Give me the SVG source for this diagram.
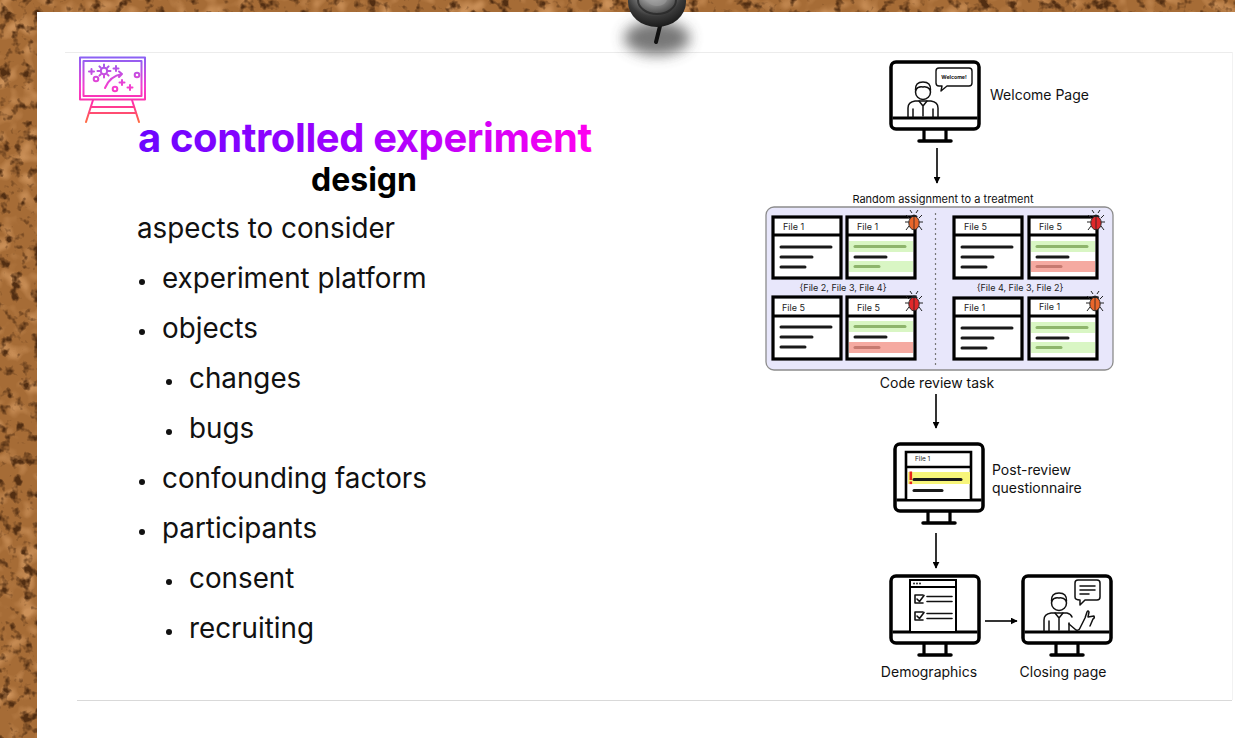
<svg xmlns="http://www.w3.org/2000/svg" width="1235" height="738" viewBox="0 0 1235 738">
  <style>
    .sans { font-family: Inter, "Liberation Sans", Arial, sans-serif; }
    .bullet-text { font-family: Inter, "Liberation Sans", Arial, sans-serif; font-size: 27.8px; fill: #111; }
    .label { font-family: Inter, "Liberation Sans", Arial, sans-serif; font-size: 14px; fill: #111; }
    .tiny { font-family: Inter, "Liberation Sans", Arial, sans-serif; font-size: 9px; fill: #222; }
    .frame { fill: #fff; stroke: #000; stroke-width: 3.5; }
    .ink { fill: none; stroke: #111; stroke-linecap: round; stroke-linejoin: round; }
    .card { fill: #fff; stroke: #000; stroke-width: 3.2; }
    .code { stroke: #1a1a1a; stroke-width: 3; stroke-linecap: round; }
    .add-band { fill: #d9f6c4; }
    .add-line { stroke: #8eb56c; stroke-width: 3; stroke-linecap: round; }
    .del-band { fill: #f5aaa1; }
    .del-line { stroke: #c67a70; stroke-width: 3; stroke-linecap: round; }
    .conn { stroke: #000; stroke-width: 1.6; fill: none; }
  </style>
  <defs>
    <filter id="corkTex" x="0" y="0" width="1" height="1" color-interpolation-filters="sRGB">
      <feFlood flood-color="#a66c36" result="base"/>
      <feTurbulence type="fractalNoise" baseFrequency="0.055" numOctaves="2" seed="11" result="n2"/>
      <feColorMatrix in="n2" type="matrix" values="0 0 0 0 0.80  0 0 0 0 0.57  0 0 0 0 0.35  3.2 0 0 0 -1.6" result="light"/>
      <feTurbulence type="fractalNoise" baseFrequency="0.09" numOctaves="3" seed="3" result="n1"/>
      <feColorMatrix in="n1" type="matrix" values="0 0 0 0 0.32  0 0 0 0 0.18  0 0 0 0 0.07  4.5 0 0 0 -2.4" result="dark"/>
      <feMerge><feMergeNode in="base"/><feMergeNode in="light"/><feMergeNode in="dark"/></feMerge>
    </filter>
    <filter id="soft" x="-50%" y="-50%" width="200%" height="200%">
      <feGaussianBlur stdDeviation="7"/>
    </filter>
    <radialGradient id="pinHead" cx="0.45" cy="0.3" r="0.7">
      <stop offset="0" stop-color="#f2f2f2"/>
      <stop offset="0.35" stop-color="#8c8c8c"/>
      <stop offset="0.7" stop-color="#3a3a3a"/>
      <stop offset="1" stop-color="#1b1b1b"/>
    </radialGradient>
    <linearGradient id="titleGrad" gradientUnits="userSpaceOnUse" x1="138" y1="0" x2="590" y2="0">
      <stop offset="0" stop-color="#6b05ff"/>
      <stop offset="0.5" stop-color="#a300ff"/>
      <stop offset="1" stop-color="#ff00f0"/>
    </linearGradient>
    <linearGradient id="iconGrad" gradientUnits="userSpaceOnUse" x1="0" y1="57" x2="0" y2="123">
      <stop offset="0" stop-color="#8a62f5"/>
      <stop offset="0.45" stop-color="#f43fd0"/>
      <stop offset="0.7" stop-color="#ff2fa8"/>
      <stop offset="1" stop-color="#ff6b3a"/>
    </linearGradient>
    <marker id="arrow" viewBox="0 0 10 10" refX="9" refY="5" markerWidth="7" markerHeight="7" markerUnits="userSpaceOnUse" orient="auto">
      <path d="M0,0 L10,5 L0,10 z" fill="#000"/>
    </marker>
    <!-- desktop monitor outline: screen, bezel and stand -->
    <g id="monitor">
      <rect class="frame" x="0" y="0" width="88" height="67" rx="5"/>
      <line x1="1.5" y1="56" x2="86.5" y2="56" stroke="#000" stroke-width="3"/>
      <path d="M33,68 V78 M55,68 V78" stroke="#000" stroke-width="3.2" fill="none"/>
      <line x1="28" y1="79" x2="60" y2="79" stroke="#000" stroke-width="3.5" stroke-linecap="round"/>
    </g>
    <!-- beetle used to mark the seeded bug -->
    <g id="bug">
      <path d="M-5,-3 L-8,-6 M5,-3 L8,-6 M-5,1 L-9,1 M5,1 L9,1 M-5,5 L-8,9 M5,5 L8,9 M-2,-8 L-4,-11 M2,-8 L4,-11" stroke="#222" stroke-width="1" fill="none"/>
      <ellipse cx="0" cy="2" rx="5.2" ry="6.8" stroke="#222" stroke-width="0.9"/>
      <path d="M-4,-4 Q0,-9 4,-4 Z" fill="#222"/>
      <line x1="0" y1="-4" x2="0" y2="8.5" stroke="#222" stroke-width="0.8"/>
    </g>
  </defs>

  <!-- cork board and page -->
  <rect x="0" y="0" width="1235" height="738" filter="url(#corkTex)"/>
  <rect x="37" y="12" width="1198" height="726" fill="#fff"/>
  <line x1="65" y1="52.5" x2="1232" y2="52.5" stroke="#ececec" stroke-width="1"/>
  <line x1="77" y1="700.5" x2="1232" y2="700.5" stroke="#d9d9d9" stroke-width="1.2"/>
  <line x1="1232.5" y1="52" x2="1232.5" y2="700" stroke="#f2f2f2" stroke-width="1"/>

  <!-- push pin -->
  <g id="pin">
    <ellipse cx="657" cy="38" rx="33" ry="17" fill="#4a4a4a" opacity="0.75" filter="url(#soft)"/>
    <path d="M660,26 L656,42" stroke="#111" stroke-width="4" stroke-linecap="round"/>
    <ellipse cx="657" cy="2" rx="29" ry="25" fill="url(#pinHead)"/>
    <ellipse cx="657" cy="0" rx="19" ry="14" fill="none" stroke="#222" stroke-width="2" opacity="0.7"/>
    <ellipse cx="657" cy="-1" rx="10" ry="7" fill="#9a9a9a" opacity="0.6"/>
  </g>

  <!-- easel icon -->
  <g id="icon" fill="none" stroke="url(#iconGrad)" stroke-width="2" stroke-linecap="round" stroke-linejoin="round">
    <rect x="80" y="57.5" width="65" height="42"/>
    <rect x="83.5" y="61" width="58" height="35"/>
    <path d="M93,100 L86,122 M132,100 L139,122 M91,107 H134 M89,113 H136"/>
    <circle cx="104" cy="71" r="3.2"/>
    <path d="M104,64.5 V66.5 M104,75.5 V77.5 M97.5,71 H99.5 M108.5,71 H110.5 M99.4,66.4 L100.8,67.8 M107.2,74.2 L108.6,75.6 M99.4,75.6 L100.8,74.2 M107.2,67.8 L108.6,66.4"/>
    <path d="M116,66 V71 M113.5,68.5 H118.5"/>
    <path d="M89,71.5 H94 M91.5,69 V74"/>
    <circle cx="96" cy="79" r="2.3"/>
    <circle cx="137" cy="75" r="2.3"/>
    <circle cx="115" cy="89" r="2.3"/>
    <path d="M105,88 Q110,76 122,74 M119,71.5 L122,74 L119,77"/>
    <path d="M122,80 V85 M119.5,82.5 H124.5"/>
    <path d="M130,85 V90 M127.5,87.5 H132.5"/>
  </g>

  <!-- title -->
  <text id="title" x="138" y="152" class="sans" font-size="40" font-weight="700" letter-spacing="-0.4" fill="url(#titleGrad)">a controlled experiment</text>
  <text id="subtitle" x="364" y="191" class="sans" font-size="32" font-weight="700" fill="#000" text-anchor="middle">design</text>

  <!-- bullet list -->
  <g id="bullets">
    <text x="137" y="238" class="bullet-text">aspects to consider</text>
    <circle cx="142" cy="282" r="3" fill="#111"/>
    <text x="162" y="288" class="bullet-text">experiment platform</text>
    <circle cx="142" cy="332" r="3" fill="#111"/>
    <text x="162" y="338" class="bullet-text">objects</text>
    <circle cx="169" cy="382" r="3" fill="#111"/>
    <text x="189" y="388" class="bullet-text">changes</text>
    <circle cx="169" cy="432" r="3" fill="#111"/>
    <text x="189" y="438" class="bullet-text">bugs</text>
    <circle cx="142" cy="482" r="3" fill="#111"/>
    <text x="162" y="488" class="bullet-text">confounding factors</text>
    <circle cx="142" cy="532" r="3" fill="#111"/>
    <text x="162" y="538" class="bullet-text">participants</text>
    <circle cx="169" cy="582" r="3" fill="#111"/>
    <text x="189" y="588" class="bullet-text">consent</text>
    <circle cx="169" cy="632" r="3" fill="#111"/>
    <text x="189" y="638" class="bullet-text">recruiting</text>
  </g>

  <!-- connectors -->
  <g id="connectors">
    <line class="conn" x1="937" y1="148" x2="937" y2="183" marker-end="url(#arrow)"/>
    <line class="conn" x1="936" y1="394" x2="936" y2="428" marker-end="url(#arrow)"/>
    <line class="conn" x1="936" y1="533" x2="936" y2="568" marker-end="url(#arrow)"/>
    <line class="conn" x1="985" y1="621" x2="1017" y2="621" marker-end="url(#arrow)"/>
  </g>

  <!-- welcome page -->
  <g id="welcome">
    <use href="#monitor" x="891" y="62"/>
    <g class="ink" stroke-width="1.5">
      <circle cx="923" cy="92" r="7.5" fill="#fff"/>
      <path d="M915.5,90 Q915,82 923,82 Q931,82 930.5,90 Q927,86 923,87 Q918,86 915.5,90 Z" fill="#fff"/>
      <path d="M908,117 V108 Q908,102 915,101 L931,101 Q938,102 938,108 V117"/>
      <path d="M919,101 L923,106 L927,101 M923,106 V116 M913,109 V117 M933,109 V117"/>
    </g>
    <g class="ink" stroke-width="1.4">
      <path d="M939,68 H969 Q972,68 972,71 V83 Q972,86 969,86 H947 L941,91 L942,86 H939 Q936,86 936,83 V71 Q936,68 939,68 Z" fill="#fff"/>
    </g>
    <text x="954" y="79" class="sans" font-size="5.2" font-weight="700" text-anchor="middle" fill="#111">Welcome!</text>
    <text x="990" y="100" class="label">Welcome Page</text>
  </g>

  <!-- code review task -->
  <g id="review-task">
    <text x="943" y="203" class="sans" font-size="11" fill="#111" text-anchor="middle">Random assignment to a treatment</text>
    <rect x="766" y="207" width="347" height="163" rx="8" fill="#e8e7fb" stroke="#8c8c8c" stroke-width="1.3"/>
    <line x1="935.5" y1="213" x2="935.5" y2="366" stroke="#777" stroke-width="1.2" stroke-dasharray="2 3"/>

    <!-- left treatment, upper pair -->
    <rect class="card" x="773" y="217" width="68" height="61"/>
    <line x1="773" y1="235" x2="841" y2="235" stroke="#000" stroke-width="3"/>
    <text x="783" y="230" class="tiny">File 1</text>
    <path class="code" d="M781,247 H831 M781,257 H812 M781,267 H805"/>

    <rect class="card" x="847" y="217" width="68" height="61"/>
    <line x1="847" y1="235" x2="915" y2="235" stroke="#000" stroke-width="3"/>
    <text x="857" y="230" class="tiny">File 1</text>
    <rect class="add-band" x="849" y="241" width="64" height="11"/>
    <line class="add-line" x1="855" y1="246.5" x2="905" y2="246.5"/>
    <line class="code" x1="855" y1="257" x2="886" y2="257"/>
    <rect class="add-band" x="849" y="261" width="64" height="11"/>
    <line class="add-line" x1="855" y1="266.5" x2="879" y2="266.5"/>
    <use href="#bug" x="914" y="221" fill="#e8662b"/>

    <text x="843" y="291" class="tiny" font-size="8.5" text-anchor="middle">{File 2, File 3, File 4}</text>

    <!-- left treatment, lower pair -->
    <rect class="card" x="773" y="297" width="68" height="62"/>
    <line x1="773" y1="316" x2="841" y2="316" stroke="#000" stroke-width="3"/>
    <text x="782" y="311" class="tiny">File 5</text>
    <path class="code" d="M781,327 H831 M781,337 H812 M781,347 H805"/>

    <rect class="card" x="847" y="297" width="68" height="62"/>
    <line x1="847" y1="316" x2="915" y2="316" stroke="#000" stroke-width="3"/>
    <text x="857" y="311" class="tiny">File 5</text>
    <rect class="add-band" x="849" y="321" width="64" height="11"/>
    <line class="add-line" x1="855" y1="326.5" x2="905" y2="326.5"/>
    <line class="code" x1="855" y1="337" x2="886" y2="337"/>
    <rect class="del-band" x="849" y="342" width="64" height="11"/>
    <line class="del-line" x1="855" y1="347.5" x2="879" y2="347.5"/>
    <use href="#bug" x="914" y="302" fill="#e0282a"/>

    <!-- right treatment, upper pair -->
    <rect class="card" x="954" y="217" width="68" height="61"/>
    <line x1="954" y1="235" x2="1022" y2="235" stroke="#000" stroke-width="3"/>
    <text x="964" y="230" class="tiny">File 5</text>
    <path class="code" d="M962,247 H1012 M962,257 H993 M962,267 H986"/>

    <rect class="card" x="1029" y="217" width="68" height="61"/>
    <line x1="1029" y1="235" x2="1097" y2="235" stroke="#000" stroke-width="3"/>
    <text x="1039" y="230" class="tiny">File 5</text>
    <rect class="add-band" x="1031" y="241" width="64" height="11"/>
    <line class="add-line" x1="1037" y1="246.5" x2="1087" y2="246.5"/>
    <line class="code" x1="1037" y1="257" x2="1068" y2="257"/>
    <rect class="del-band" x="1031" y="261" width="64" height="11"/>
    <line class="del-line" x1="1037" y1="266.5" x2="1061" y2="266.5"/>
    <use href="#bug" x="1096" y="221" fill="#e0282a"/>

    <text x="1020" y="291" class="tiny" font-size="8.5" text-anchor="middle">{File 4, File 3, File 2}</text>

    <!-- right treatment, lower pair -->
    <rect class="card" x="954" y="298" width="68" height="61"/>
    <line x1="954" y1="316" x2="1022" y2="316" stroke="#000" stroke-width="3"/>
    <text x="964" y="311" class="tiny">File 1</text>
    <path class="code" d="M962,328 H1012 M962,338 H993 M962,348 H986"/>

    <rect class="card" x="1029" y="298" width="68" height="61"/>
    <line x1="1029" y1="316" x2="1097" y2="316" stroke="#000" stroke-width="3"/>
    <text x="1039" y="310" class="tiny">File 1</text>
    <rect class="add-band" x="1031" y="322" width="64" height="11"/>
    <line class="add-line" x1="1037" y1="327.5" x2="1087" y2="327.5"/>
    <line class="code" x1="1037" y1="338" x2="1068" y2="338"/>
    <rect class="add-band" x="1031" y="342" width="64" height="11"/>
    <line class="add-line" x1="1037" y1="347.5" x2="1061" y2="347.5"/>
    <use href="#bug" x="1095" y="302" fill="#e8662b"/>

    <text x="937" y="388" class="label" text-anchor="middle">Code review task</text>
  </g>

  <!-- post-review questionnaire -->
  <g id="post-review">
    <use href="#monitor" x="895" y="444"/>
    <path d="M906,499 V452 H971 V499" fill="#fff" stroke="#000" stroke-width="2.6"/>
    <line x1="906" y1="467" x2="971" y2="467" stroke="#000" stroke-width="2.6"/>
    <text x="915" y="461" class="sans" font-size="6.5" fill="#222">File 1</text>
    <rect x="908" y="472" width="62" height="12" fill="#f7f57a"/>
    <line class="code" x1="914" y1="479.5" x2="961" y2="479.5" stroke-width="2.6"/>
    <line class="code" x1="914" y1="490.5" x2="942" y2="490.5" stroke-width="2.6"/>
    <rect x="909.5" y="471.5" width="2.6" height="8.5" fill="#e8241c"/>
    <rect x="909.5" y="481.5" width="2.6" height="2.6" fill="#e8241c"/>
    <text x="992" y="475" class="label">Post-review</text>
    <text x="992" y="493" class="label">questionnaire</text>
  </g>

  <!-- demographics -->
  <g id="demographics">
    <use href="#monitor" x="891" y="576"/>
    <path d="M910,631 V580 H956 V631" fill="#fff" stroke="#000" stroke-width="2"/>
    <line x1="910" y1="587" x2="956" y2="587" stroke="#000" stroke-width="1.8"/>
    <g fill="#111"><circle cx="914" cy="583.5" r="0.9"/><circle cx="917" cy="583.5" r="0.9"/><circle cx="920" cy="583.5" r="0.9"/></g>
    <g class="ink" stroke-width="1.6">
      <path d="M923,595 H915 V603 H923"/>
      <path d="M917,599 L919.5,601.5 L924,595.5"/>
      <path d="M927,596.5 H952 M927,601.5 H952"/>
      <path d="M923,612 H915 V620 H923"/>
      <path d="M917,616 L919.5,618.5 L924,612.5"/>
      <path d="M927,613.5 H952 M927,618.5 H952"/>
    </g>
    <text x="929" y="677" class="label" text-anchor="middle">Demographics</text>
  </g>

  <!-- closing page -->
  <g id="closing">
    <use href="#monitor" x="1023" y="576"/>
    <g class="ink" stroke-width="1.5">
      <circle cx="1059" cy="603" r="7.5" fill="#fff"/>
      <path d="M1051.5,601 Q1051,593 1059,593 Q1067,593 1066.5,601 Q1063,597 1059,598 Q1054,597 1051.5,601 Z" fill="#fff"/>
      <path d="M1044,631 V620 Q1044,614 1051,613 L1067,613 Q1071,614 1072,617"/>
      <path d="M1055,613 L1059,618 L1063,613 M1059,618 V630 M1049,621 V631 M1069,623 V631"/>
      <path d="M1069,624 L1076,630 Q1079,631 1080,628 L1085,618 L1087,612 Q1088,610 1089,612 L1088,617 L1094,616 Q1095,618 1093,619 L1090,626"/>
      <path d="M1078,580 H1097 Q1100,580 1100,583 V597 Q1100,600 1097,600 H1085 L1080,605 L1080,600 Q1075,600 1075,597 V583 Q1075,580 1078,580 Z" fill="#fff"/>
      <path d="M1080,586 H1095 M1080,590 H1095 M1080,594 H1089"/>
    </g>
    <text x="1063" y="677" class="label" text-anchor="middle">Closing page</text>
  </g>
</svg>
